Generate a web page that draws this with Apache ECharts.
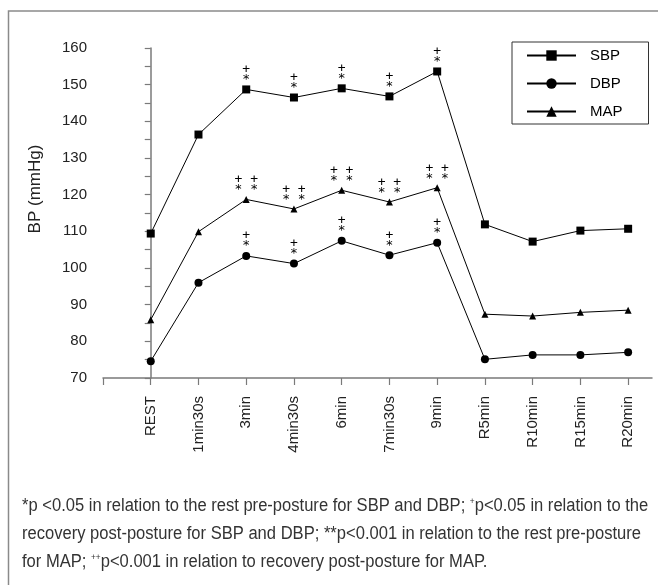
<!DOCTYPE html>
<html>
<head>
<meta charset="utf-8">
<script src="https://cdn.jsdelivr.net/npm/echarts@6/dist/echarts.min.js"></script>
<style>html,body{margin:0;padding:0;background:#fff}#c{width:658px;height:585px}</style>
</head>
<body>
<div id="c"></div>
<script>
const categories = ['REST','1min30s','3min','4min30s','6min','7min30s','9min','R5min','R10min','R15min','R20min'];
const sbp = [109.4,136.4,148.7,146.5,149.0,146.8,153.6,111.9,107.2,110.2,110.7];
const dbp = [74.6,96.0,103.3,101.2,107.4,103.5,106.9,75.1,76.3,76.3,77.0];
const map = [85.9,109.9,118.7,116.1,121.2,118.0,121.9,87.4,86.9,87.9,88.5];
const sbpMarks = ['','','+\n*','+\n*','+\n*','+\n*','+\n*','','','',''];
const dbpMarks = ['','','+\n*','+\n*','+\n*','+\n*','+\n*','','','',''];
const mapMarks = ['','','+ +\n* *','+ +\n* *','+ +\n* *','+ +\n* *','+ +\n* *','','','',''];
const yTicks = [70,80,90,100,110,120,130,140,150,160];

const chart = echarts.init(document.getElementById('c'), null, {renderer:'canvas'});
const toPts = arr => arr.map((v,i)=>[i,v]);
function mkSeries(name, vals, marks, symbol, size){
  return {
    name, type:'line', data: toPts(vals), symbol, symbolSize:size,
    lineStyle:{color:'#000',width:1}, itemStyle:{color:'#000'},
    label:{show:true, position:'top', distance:1, color:'#000', fontSize:13, lineHeight:10,
      fontFamily:'DejaVu Sans Mono',
      formatter: p => marks[p.dataIndex]},
    emphasis:{disabled:true}, animation:false
  };
}
const axisGray = '#7a7a7a';
const FN = 'Liberation Sans, Arial';
const SX = 0.92;
chart.setOption({
  animation:false,
  grid:{left:103, top:48, right:6, bottom:207, containLabel:false},
  xAxis:{type:'value', min:-1, max:10.5,
    axisLine:{lineStyle:{color:axisGray,width:1.5}},
    axisTick:{show:true, length:7, lineStyle:{color:axisGray,width:1.2}, customValues:[-1,0,1,2,3,4,5,6,7,8,9,10]},
    axisLabel:{rotate:90, margin:18, fontSize:15, color:'#222', fontFamily:'Liberation Sans, Arial',
      customValues:[0,1,2,3,4,5,6,7,8,9,10], formatter: v => categories[v] ?? ''},
    splitLine:{show:false}},
  yAxis:{type:'value', min:70, max:160, interval:5,
    axisLine:{show:true, lineStyle:{color:axisGray,width:1.5}},
    axisTick:{show:true, length:6, lineStyle:{color:axisGray,width:1.2}},
    axisLabel:{margin:16, fontSize:15, color:'#222', fontFamily:'Liberation Sans, Arial',
      formatter: v => yTicks.includes(v) ? String(v) : ''},
    splitLine:{show:false}},
  legend:{orient:'vertical', left:512, top:42,
    data:['SBP','DBP','MAP'],
    borderColor:'#333', borderWidth:1, padding:[6,26,5,14],
    itemWidth:49, itemHeight:13, itemGap:13,
    textStyle:{fontSize:15, color:'#000', fontFamily:'Liberation Sans, Arial', padding:[0,0,0,9]}},
  series:[
    mkSeries('SBP', sbp, sbpMarks, 'rect', 8),
    mkSeries('DBP', dbp, dbpMarks, 'circle', 8),
    mkSeries('MAP', map, mapMarks, 'triangle', 7)
  ],
  graphic:[
    {type:'rect', shape:{x:8.5, y:11, width:700, height:700}, style:{fill:null, stroke:'#8a8a8a', lineWidth:1.5}, silent:true},
    {type:'text', x:35, y:189, rotation:Math.PI/2, style:{text:'BP (mmHg)', fontSize:17, fill:'#222', fontFamily:'Liberation Sans, Arial', align:'center', verticalAlign:'middle'}},
    {type:'text', x:22, y:506, scaleX:SX, style:{text:'*p <0.05 in relation to the rest pre-posture for SBP and DBP; {s|+}p<0.05 in relation to the',
      rich:{s:{fontSize:9, verticalAlign:'top', padding:[0,0,7,0], fill:'#333', fontFamily:FN}},
      fontSize:18, fill:'#333', fontFamily:FN, verticalAlign:'middle'}},
    {type:'text', x:22, y:534, scaleX:SX, style:{text:'recovery post-posture for SBP and DBP; **p<0.001 in relation to the rest pre-posture',
      fontSize:18, fill:'#333', fontFamily:FN, verticalAlign:'middle'}},
    {type:'text', x:22, y:562, scaleX:SX, style:{text:'for MAP; {s|++}p<0.001 in relation to recovery post-posture for MAP.',
      rich:{s:{fontSize:9, verticalAlign:'top', padding:[0,0,7,0], fill:'#333', fontFamily:FN}},
      fontSize:18, fill:'#333', fontFamily:FN, verticalAlign:'middle'}}
  ]
});
</script>
</body>
</html>
